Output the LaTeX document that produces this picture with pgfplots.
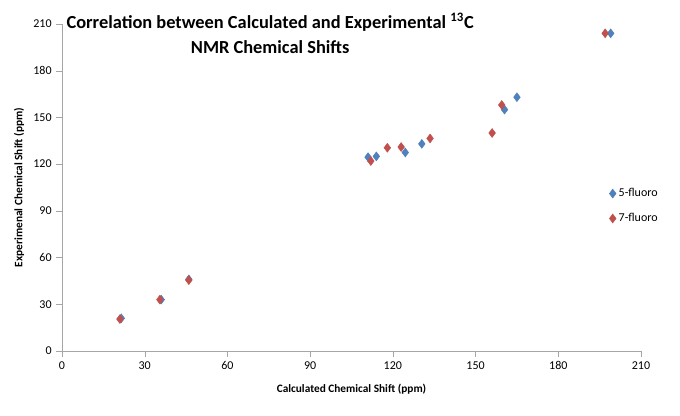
\documentclass[border=0pt]{standalone}
\usepackage{pgfplots}
\pgfplotsset{compat=1.18}
\usepackage{fontspec}
\setmainfont{Carlito}
\definecolor{cblue}{HTML}{4F81BD}
\definecolor{cred}{HTML}{C0504D}
\begin{document}
\begin{tikzpicture}
\begin{axis}[
  scale only axis, width=434.25pt, height=245.25pt,
  xmin=0, xmax=210, ymin=0, ymax=210,
  xtick={0,30,...,210}, ytick={0,30,...,210},
  axis lines=left, axis line style={-, gray!70},
  tick align=outside, tick style={gray!70},
  tick label style={font=\fontsize{9}{10}\selectfont},
  /pgf/number format/assume math mode=true,
  xlabel={\bfseries Calculated Chemical Shift (ppm)},
  ylabel={\bfseries Experimenal Chemical Shift (ppm)},
  label style={font=\fontsize{8.5}{10}\selectfont},
  xlabel style={yshift=-4pt},
  clip=false,
  legend style={draw=none, fill=none, font=\fontsize{9}{10}\selectfont, at={(axis cs:197,108)}, anchor=north west, row sep=7pt},
  legend cell align=left,
]
\addplot[only marks, mark=diamond*, mark size=3.3pt, color=cblue] coordinates {
 (21.5,21) (36,33) (46,46) (111,124.5) (114,125) (124.5,127.5) (130.5,133) (160.5,155) (165,163) (199,204)};
\addlegendentry{5-fluoro}
\addplot[only marks, mark=diamond*, mark size=3.3pt, color=cred] coordinates {
 (21,20.5) (35.5,33) (46,45.5) (112,122) (118,130.5) (123,131) (133.5,136.5) (156,140) (159.5,158) (197,204)};
\addlegendentry{7-fluoro}
\node[anchor=north, align=center, font=\bfseries\fontsize{13.8}{19}\selectfont] at (axis cs:75.5,220)
 {Correlation between Calculated and Experimental $^{\mathbf{13}}$C\\NMR Chemical Shifts};
\end{axis}
\useasboundingbox (-46.5pt,-48.75pt) rectangle (463.5pt,263.25pt);
\end{tikzpicture}
\end{document}
